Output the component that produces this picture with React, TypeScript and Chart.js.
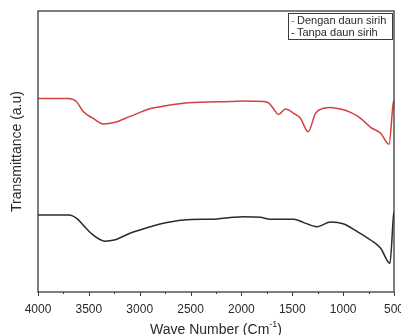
import React, { useEffect, useRef } from "react";
import { Chart, registerables } from "chart.js";

Chart.register(...registerables);

// ---- Data ----
const seriesLabels = ["Dengan daun sirih", "Tanpa daun sirih"];
const seriesColors = ["#d2403f", "#2b2b2b"];

const redWave = [4000, 3850, 3700, 3620, 3556, 3458, 3359, 3250, 3100, 2900, 2800, 2573, 2241, 2100, 1979, 1782, 1730, 1699, 1634, 1568, 1486, 1420, 1344, 1272, 1190, 1124, 1025, 927, 828, 730, 631, 549, 510, 500];
const redT = [68.9, 68.9, 68.9, 67.7, 64.2, 61.8, 59.8, 60.3, 62.4, 65.2, 65.9, 67.2, 67.7, 67.8, 68.0, 67.8, 67.2, 65.9, 63.2, 65.1, 63.6, 61.8, 57.0, 63.6, 65.4, 65.7, 65.1, 63.9, 61.8, 58.6, 56.5, 52.6, 66.5, 68.3];

const blackWave = [4000, 3850, 3694, 3620, 3556, 3458, 3342, 3250, 3096, 2899, 2800, 2567, 2241, 2077, 1979, 1816, 1716, 1486, 1387, 1321, 1255, 1124, 993, 861, 730, 631, 540, 506, 500];
const blackT = [27.4, 27.4, 27.4, 26.2, 23.8, 20.3, 18.1, 18.5, 20.9, 23.2, 24.2, 25.6, 26.0, 26.6, 26.8, 26.6, 25.9, 25.9, 24.7, 23.8, 23.2, 24.9, 24.2, 21.5, 18.5, 15.6, 10.2, 26.8, 28.5];

const xMin = 500;
const xMax = 4000;
const majorStep = 500;
const minorStep = 250;
const xTitleMain = "Wave Number (Cm";
const xTitleSup = "-1";
const xTitleEnd = ")";
const yTitle = "Transmittance (a.u)";

const FONT = "'Liberation Sans', Arial, sans-serif";
const FRAME = "#3a3a3a";

const framePlugin = {
  id: "framePlugin",
  afterDraw(chart: any) {
    const { ctx, chartArea } = chart;
    const xs = chart.scales.x;
    ctx.save();
    // frame
    ctx.strokeStyle = FRAME;
    ctx.lineWidth = 1.3;
    ctx.strokeRect(chartArea.left, chartArea.top, chartArea.right - chartArea.left, chartArea.bottom - chartArea.top);
    // ticks
    ctx.lineWidth = 1;
    for (let v = xMin; v <= xMax; v += minorStep) {
      const px = Math.round(xs.getPixelForValue(v)) + 0.5;
      const len = v % majorStep === 0 ? 4 : 2;
      ctx.beginPath();
      ctx.moveTo(px, chartArea.bottom);
      ctx.lineTo(px, chartArea.bottom + len);
      ctx.stroke();
    }
    // x title with superscript
    ctx.fillStyle = "#2a2a2a";
    ctx.textBaseline = "middle";
    ctx.textAlign = "left";
    const mainFont = `14px ${FONT}`;
    const supFont = `9px ${FONT}`;
    ctx.font = mainFont;
    const w1 = ctx.measureText(xTitleMain).width;
    const w3 = ctx.measureText(xTitleEnd).width;
    ctx.font = supFont;
    const w2 = ctx.measureText(xTitleSup).width;
    const total = w1 + w2 + w3;
    const cx = (chartArea.left + chartArea.right) / 2;
    const ty = chartArea.bottom + 38;
    let x0 = cx - total / 2;
    ctx.font = mainFont;
    ctx.fillText(xTitleMain, x0, ty);
    ctx.font = supFont;
    ctx.fillText(xTitleSup, x0 + w1, ty - 5);
    ctx.font = mainFont;
    ctx.fillText(xTitleEnd, x0 + w1 + w2, ty);
    // legend
    const bx = chartArea.right - 106;
    const by = chartArea.top + 2;
    const bw = 104;
    const bh = 26;
    ctx.fillStyle = "#ffffff";
    ctx.fillRect(bx, by, bw, bh);
    ctx.strokeStyle = FRAME;
    ctx.lineWidth = 1;
    ctx.strokeRect(Math.round(bx) + 0.5, Math.round(by) + 0.5, bw, bh);
    ctx.font = `11px ${FONT}`;
    seriesLabels.forEach((lab, i) => {
      const ly = by + 8 + i * 11.5;
      ctx.fillStyle = seriesColors[i];
      ctx.fillText("-", bx + 3, ly);
      ctx.fillStyle = "#2a2a2a";
      ctx.fillText(lab, bx + 9, ly);
    });
    ctx.restore();
  },
};

export default function App() {
  const ref = useRef<HTMLCanvasElement>(null);
  useEffect(() => {
    if (!ref.current) return;
    const chart = new Chart(ref.current, {
      type: "line",
      data: {
        datasets: [
          {
            label: seriesLabels[0],
            data: redWave.map((w, i) => ({ x: w, y: redT[i] })),
            borderColor: seriesColors[0],
            borderWidth: 1.5,
            pointRadius: 0,
            cubicInterpolationMode: "monotone",
            fill: false,
          },
          {
            label: seriesLabels[1],
            data: blackWave.map((w, i) => ({ x: w, y: blackT[i] })),
            borderColor: seriesColors[1],
            borderWidth: 1.5,
            pointRadius: 0,
            cubicInterpolationMode: "monotone",
            fill: false,
          },
        ],
      },
      options: {
        animation: false,
        responsive: false,
        maintainAspectRatio: false,
        layout: { padding: { top: 11, left: 0, right: 0, bottom: 0 } },
        plugins: { legend: { display: false }, tooltip: { enabled: false } },
        scales: {
          x: {
            type: "linear",
            reverse: true,
            min: xMin,
            max: xMax,
            grid: { display: false },
            border: { display: false },
            ticks: {
              stepSize: majorStep,
              padding: 2,
              color: "#2a2a2a",
              font: { family: FONT, size: 12 },
              maxRotation: 0,
              autoSkip: false,
              callback: (v: any) => String(v),
            },
            afterFit: (s: any) => {
              s.height = 43;
              s.paddingLeft = 0;
              s.paddingRight = 10;
            },
          },
          y: {
            min: 0,
            max: 100,
            grid: { display: false },
            border: { display: false },
            ticks: { display: false },
            title: {
              display: true,
              text: yTitle,
              color: "#2a2a2a",
              font: { family: FONT, size: 14 },
              padding: { top: 9, bottom: 0 },
            },
            afterFit: (s: any) => {
              s.width = 38;
            },
          },
        },
      },
      plugins: [framePlugin],
    });
    return () => chart.destroy();
  }, []);
  return (
    <div style={{ position: "fixed", left: 0, top: 0, width: 401, height: 335, overflow: "hidden", background: "#fff" }}>
      <canvas ref={ref} width={404} height={335} style={{ display: "block", width: 404, height: 335 }} />
    </div>
  );
}
